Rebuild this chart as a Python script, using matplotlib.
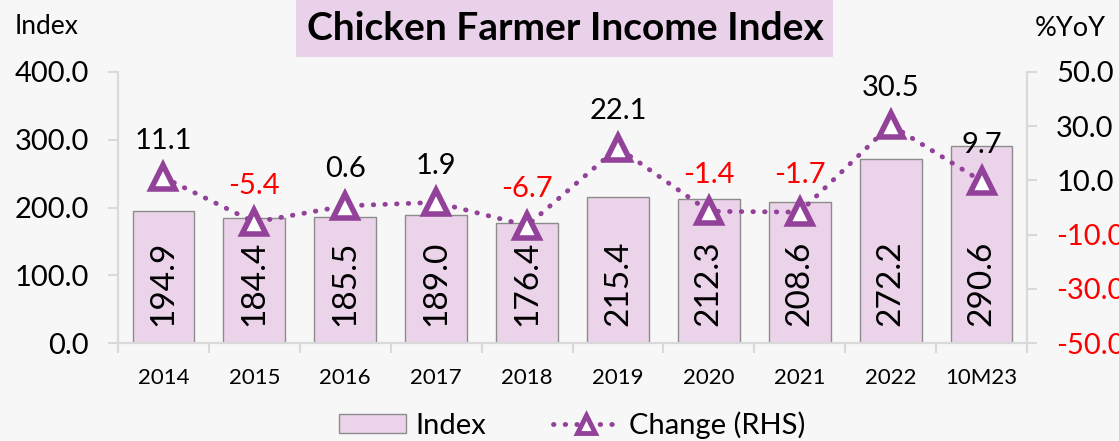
import matplotlib
matplotlib.use('Agg')
import matplotlib.pyplot as plt
from matplotlib.patches import Rectangle, Patch
from matplotlib.lines import Line2D
import numpy as np

plt.rcParams['font.family'] = ['Lato', 'DejaVu Sans']

# ============================================================
# DATA
# ============================================================
categories = ['2014', '2015', '2016', '2017', '2018', '2019', '2020', '2021', '2022', '10M23']
index_vals = [194.9, 184.4, 185.5, 189.0, 176.4, 215.4, 212.3, 208.6, 272.2, 290.6]
yoy_vals   = [11.1, -5.4, 0.6, 1.9, -6.7, 22.1, -1.4, -1.7, 30.5, 9.7]
left_ticks  = [0, 100, 200, 300, 400]
right_ticks = [-50, -30, -10, 10, 30, 50]

BG      = '#F7F7F7'
BAR     = '#EBD3EA'
BAR_EDG = '#8C8C8C'
PURPLE  = '#93429A'
SPINE   = '#D9D9D9'
RED     = '#FF0000'
DOTS    = (0, (0.1, 2.3))

# ============================================================
# FIGURE
# ============================================================
fig = plt.figure(figsize=(11.19, 4.41), dpi=100, facecolor=BG)
ax = fig.add_axes([118 / 1119, 1 - 343 / 441, 909 / 1119, 271 / 441])
ax.set_facecolor(BG)
ax2 = ax.twinx()

x = np.arange(len(categories))
ax.bar(x, index_vals, width=0.68, color=BAR, edgecolor=BAR_EDG, linewidth=1.0, zorder=2)
for xi, v in zip(x, index_vals):
    ax.annotate(f'{v:.1f}', (xi, 0), xytext=(0, 12), textcoords='offset points',
                rotation=90, ha='center', va='bottom', fontsize=24, color='black')

ax.set_xlim(-0.5, len(categories) - 0.5)
ax.set_ylim(0, 400)
ax.set_yticks(left_ticks)
ax.set_yticklabels([f'{t:.1f}' for t in left_ticks], fontsize=21)
ax.set_xticks(x)
ax.set_xticklabels(categories, fontsize=16)
ax.set_xticks(np.arange(len(categories) + 1) - 0.5, minor=True)
ax.tick_params(axis='x', which='major', length=0, pad=18)
ax.tick_params(axis='x', which='minor', length=7, color=SPINE, width=1.5)
ax.tick_params(axis='y', length=7, color=SPINE, width=1.5, pad=14)

ax2.plot(x, yoy_vals, color=PURPLE, linewidth=3.5, linestyle=DOTS,
         dash_capstyle='round', marker='^', markersize=17, markerfacecolor='white',
         markeredgecolor=PURPLE, markeredgewidth=4, zorder=3)
for xi, v in zip(x, yoy_vals):
    ax2.annotate(f'{v:.1f}', (xi, v), xytext=(0, 17), textcoords='offset points',
                 ha='center', va='bottom', fontsize=21,
                 color=RED if v < 0 else 'black')
ax2.set_ylim(-50, 50)
ax2.set_yticks(right_ticks)
ax2.set_yticklabels([f'{t:.1f}' for t in right_ticks], fontsize=21)
for lbl, t in zip(ax2.get_yticklabels(), right_ticks):
    lbl.set_color(RED if t < 0 else 'black')
ax2.tick_params(axis='y', length=7, color=SPINE, width=1.5, pad=14)

for a in (ax, ax2):
    a.spines['top'].set_visible(False)
    for s in ('left', 'right', 'bottom'):
        a.spines[s].set_color(SPINE)
        a.spines[s].set_linewidth(1.5)
ax2.patch.set_visible(False)

# axis captions
fig.text(15 / 1119, 1 - 27 / 441, 'Index', fontsize=19, ha='left', va='center')
fig.text(1035 / 1119, 1 - 28 / 441, '%YoY', fontsize=19.5, ha='left', va='center')

# title box
fig.patches.append(Rectangle((296 / 1119, 1 - 57 / 441), 537 / 1119, 57 / 441,
                             transform=fig.transFigure, facecolor='#EAD1EA',
                             edgecolor='none', zorder=0))
fig.text(565 / 1119, 1 - 29 / 441, 'Chicken Farmer Income Index', fontsize=28,
         fontweight='bold', ha='center', va='center')

# legend
handles = [
    Patch(facecolor=BAR, edgecolor=BAR_EDG, linewidth=1.0),
    Line2D([], [], color=PURPLE, linewidth=3.5, linestyle=DOTS,
           dash_capstyle='round', marker='^', markersize=13, markerfacecolor='white',
           markeredgecolor=PURPLE, markeredgewidth=3.5),
]
fig.legend(handles, ['Index', 'Change (RHS)'], loc='center',
           bbox_to_anchor=(572 / 1119, 1 - 425 / 441),
           ncol=2, frameon=False, fontsize=21, handlelength=2.3, handleheight=0.65,
           columnspacing=2.3, handletextpad=0.3)

fig.savefig('out.png', dpi=100, facecolor=BG)
